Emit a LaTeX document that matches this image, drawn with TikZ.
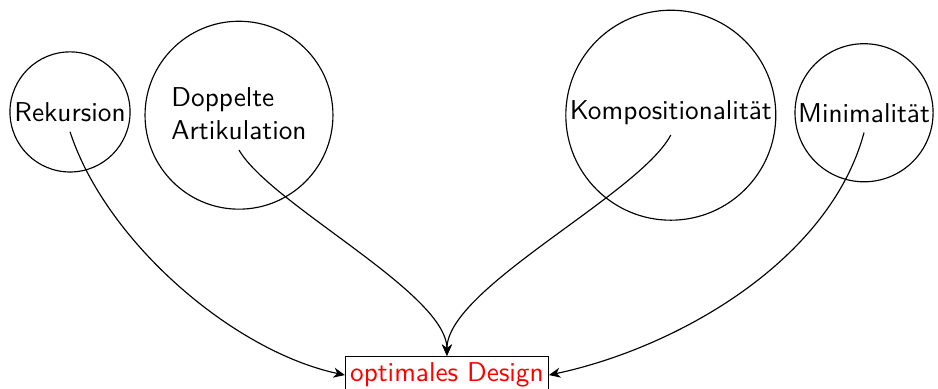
\documentclass[tikz,border=0pt]{standalone}
\usepackage{xcolor}
\usepackage{tikz}
\usetikzlibrary{arrows.meta, positioning}
\tikzset{
	ringnode/.style={draw, circle, inner sep=0pt},
	labelnode/.style={font=\fontsize{9.5pt}{11.6pt}\sffamily, align=left},
	designarr/.style={-{Stealth[length=4pt, width=3.5pt]}},
}

\begin{document}
\begin{tikzpicture}[x=1mm, y=1mm]
	\useasboundingbox (0,0) rectangle (114.8,47.6);
	% Four properties in circles
	\node[labelnode] (rek) at (8.57,33.9) {Rekursion};
	\node[labelnode] (dop) at (29.25,33.7) {Doppelte\\Artikulation};
	\node[labelnode] (kom) at (82.1,33.8) {Kompositionalit\"at};
	\node[labelnode] (mini) at (105.75,33.8) {Minimalit\"at};
	\node[ringnode, minimum size=14.7mm] (rekring) at (8.57,33.9) {};
	\node[ringnode, minimum size=23mm] (dopring) at (29.25,33.5) {};
	\node[ringnode, minimum size=25.7mm] (komring) at (82.1,33.5) {};
	\node[ringnode, minimum size=16.9mm] (miniring) at (105.75,33.8) {};
	% Target
	\node[draw, anchor=north, inner xsep=1.6pt, inner ysep=2.2pt, font=\fontsize{9.5pt}{11.6pt}\sffamily, text=red] (design) at (54.7,4.04) {optimales Design};
	% Arrows
	\draw[designarr] (rek.south) to[out=-72, in=168, looseness=0.8] (design.west);
	\draw[designarr] (dop.south) to[out=-60, in=90, looseness=0.55] (design.north);
	\draw[designarr] (kom.south) to[out=-118, in=90, looseness=0.55] (design.north);
	\draw[designarr] (mini.south) to[out=-105, in=12, looseness=0.85] (design.east);
\end{tikzpicture}
\end{document}
